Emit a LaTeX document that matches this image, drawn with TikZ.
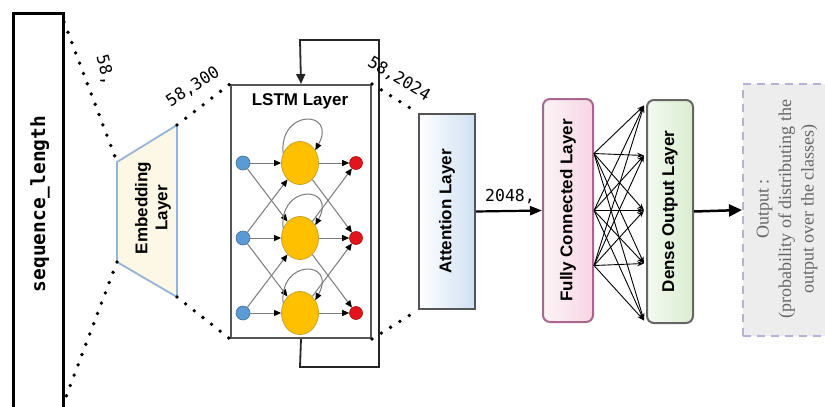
\documentclass[tikz,border=0pt]{standalone}
\usepackage{fontspec}
\setmainfont{Liberation Sans}
\newfontfamily\monof{DejaVu Sans Mono}
\newfontfamily\seriff{Liberation Serif}
\usetikzlibrary{arrows.meta,shapes.geometric,calc}
\definecolor{embfill}{HTML}{FDF7E6}
\definecolor{embdraw}{HTML}{94B4D8}
\definecolor{boxgray}{HTML}{555555}
\definecolor{linegray}{HTML}{7A7A7A}
\definecolor{bluen}{HTML}{5B9BD5}
\definecolor{bluend}{HTML}{41719C}
\definecolor{yelln}{HTML}{FFC000}
\definecolor{yellnd}{HTML}{C9A227}
\definecolor{redn}{HTML}{E3151C}
\definecolor{rednd}{HTML}{A81010}
\definecolor{attblue}{HTML}{CFE0F2}
\definecolor{fcdraw}{HTML}{A8678F}
\definecolor{fcpink}{HTML}{F7D6E3}
\definecolor{dgreen}{HTML}{D9EDCF}
\definecolor{outdash}{HTML}{B9B0D8}
\definecolor{outfill}{HTML}{EDEDED}
\definecolor{outtext}{HTML}{666666}
\begin{document}
\begin{tikzpicture}[x=1pt,y=1pt,
  dotline/.style={line width=3.8pt, dash pattern=on 0pt off 11pt, line cap=round, black},
  lbl/.style={font=\bfseries\fontsize{17}{20}\selectfont, inner sep=0pt},
  monolbl/.style={font=\monof\fontsize{16.5}{18}\selectfont, inner sep=0pt},
  conn/.style={draw=linegray, line width=1pt, -{Triangle[length=7pt,width=6pt,color=black]}},
  mesh/.style={draw=black, line width=0.9pt, -{Stealth[length=7pt,width=5pt]}},
  bluec/.style={circle, fill=bluen, draw=bluend, line width=0.6pt, minimum size=14pt, inner sep=0pt},
  yellc/.style={ellipse, fill=yelln, draw=yellnd, line width=0.8pt, minimum width=37pt, minimum height=43pt, inner sep=0pt},
  redc/.style={circle, fill=redn, draw=rednd, line width=0.6pt, minimum size=13pt, inner sep=0pt},
]
\clip (0,0) rectangle (825,-407);
\fill[white] (0,0) rectangle (825,-407);

% sequence_length box
\node[draw=black, line width=3pt, fill=white, anchor=north west, minimum width=50pt, minimum height=420pt, inner sep=0pt] (seq) at (12,-12) {};
\node[rotate=90, font=\monof\bfseries\fontsize{19.5}{20}\selectfont, inner sep=0pt] (seqt) at (40,-204) {sequence\_length};

% embedding trapezoid
\coordinate (e1) at (117,-162);
\coordinate (e2) at (177,-125);
\coordinate (e3) at (177,-297);
\coordinate (e4) at (117,-262);
\filldraw[fill=embfill, draw=embdraw, line width=1.8pt, line join=round] (e1) -- (e2) -- (e3) -- (e4) -- cycle;
\node[lbl, rotate=90, align=center] (embt) at (153,-208) {Embedding\\Layer};

% LSTM box
\node[draw=boxgray, line width=2pt, fill=white, anchor=north west, minimum width=140pt, minimum height=253pt, inner sep=0pt] (lstm) at (230,-84) {};
\node[lbl] (lstmt) at (300,-101) {LSTM Layer};

% dotted connectors
\coordinate (s1) at (64,-22);
\coordinate (s2) at (64,-402);
\draw[dotline] (s1) -- (e1);
\draw[dotline] (e4) -- (s2);
\draw[dotline] (e2) -- (lstm.north west);
\draw[dotline] (e3) -- (lstm.south west);
\node[monolbl, rotate=-75] (l58) at (105,-70) {58,};
\node[monolbl, rotate=33] (l58300) at (193,-87) {58,300};

% feedback loop
\coordinate (fb1) at (300,-367);
\coordinate (fb2) at (379,-367);
\coordinate (fb3) at (379,-40);
\coordinate (fb4) at (300,-40);
\draw[draw=black!85, line width=1.8pt, -{Triangle[length=10pt,width=9pt]}] (lstm.south) -- (fb1) -- (fb2) -- (fb3) -- (fb4) -- (lstm.north);

% LSTM cells
\foreach \i/\y in {1/163, 2/238, 3/313} {
  \node[bluec] (b\i) at (243,-\y) {};
  \node[yellc] (y\i) at (300,-\y) {};
  \node[redc] (r\i) at (356,-\y) {};
}
\foreach \a/\b in {1/1,1/2,2/1,2/2,2/3,3/2,3/3} {
  \draw[conn] (b\a) -- (y\b);
  \draw[conn] (y\a) -- (r\b);
}
\foreach \i in {1,2,3} {
  \draw[conn] (y\i.150) .. controls ($(y\i.150)+(-4,45)$) and ($(y\i.40)+(22,40)$) .. (y\i.40);
}

% attention
\node[draw=boxgray, line width=2pt, left color=white, right color=attblue, anchor=north west, minimum width=56pt, minimum height=195pt, inner sep=0pt] (att) at (418,-113) {};
\node[lbl, rotate=90] (attt) at (att) {Attention Layer};
\draw[dotline] (lstm.north east) -- (att.north west);
\draw[dotline] (lstm.south east) -- (att.south west);
\node[monolbl, rotate=-31] (l582024) at (399,-79) {58,2024};

% fully connected
\node[draw=fcdraw, line width=2pt, rounded corners=7pt, left color=white!70!fcpink, right color=fcpink, minimum width=50pt, minimum height=223pt, inner sep=0pt] (fc) at (568,-210.5) {};
\node[lbl, rotate=90] (fct) at (fc) {Fully Connected Layer};
\draw[black, line width=2.2pt, -{Triangle[length=12pt,width=9pt]}] (att.east) -- (fc.west);
\node[monolbl] (l2048) at (510,-197) {2048,};

% dense output
\node[draw=black!60, line width=2pt, rounded corners=7pt, left color=white!70!dgreen, right color=dgreen, minimum width=46pt, minimum height=223pt, inner sep=0pt] (dense) at (670,-211.5) {};
\node[lbl, rotate=90] (denset) at (dense) {Dense Output Layer};

% mesh
\foreach \i/\dy in {1/57,2/0,3/-55} {
  \coordinate (fo\i) at ($(fc.east)+(0,\dy)$);
}
\foreach \j/\dy in {1/106,2/56,3/1,4/-52,5/-109} {
  \coordinate (di\j) at ($(dense.west)+(-2,\dy)$);
}
\foreach \i in {1,2,3} {
  \foreach \j in {1,...,5} {
    \draw[mesh] (fo\i) -- (di\j);
  }
}

% output
\node[draw=outdash, line width=2pt, dash pattern=on 8pt off 6pt, fill=outfill, anchor=north west, minimum width=95pt, minimum height=252pt, inner sep=0pt] (out) at (742,-83) {};
\node[rotate=90, align=center, font=\seriff\fontsize{18}{22.5}\selectfont, text=outtext, inner sep=0pt] (outt) at (787,-209) {Output :\\(probability of distributing the\\output over the classes)};
\draw[black, line width=2.5pt, -{Triangle[length=13pt,width=12pt]}] (dense.east) -- (out.west);
\end{tikzpicture}
\end{document}
